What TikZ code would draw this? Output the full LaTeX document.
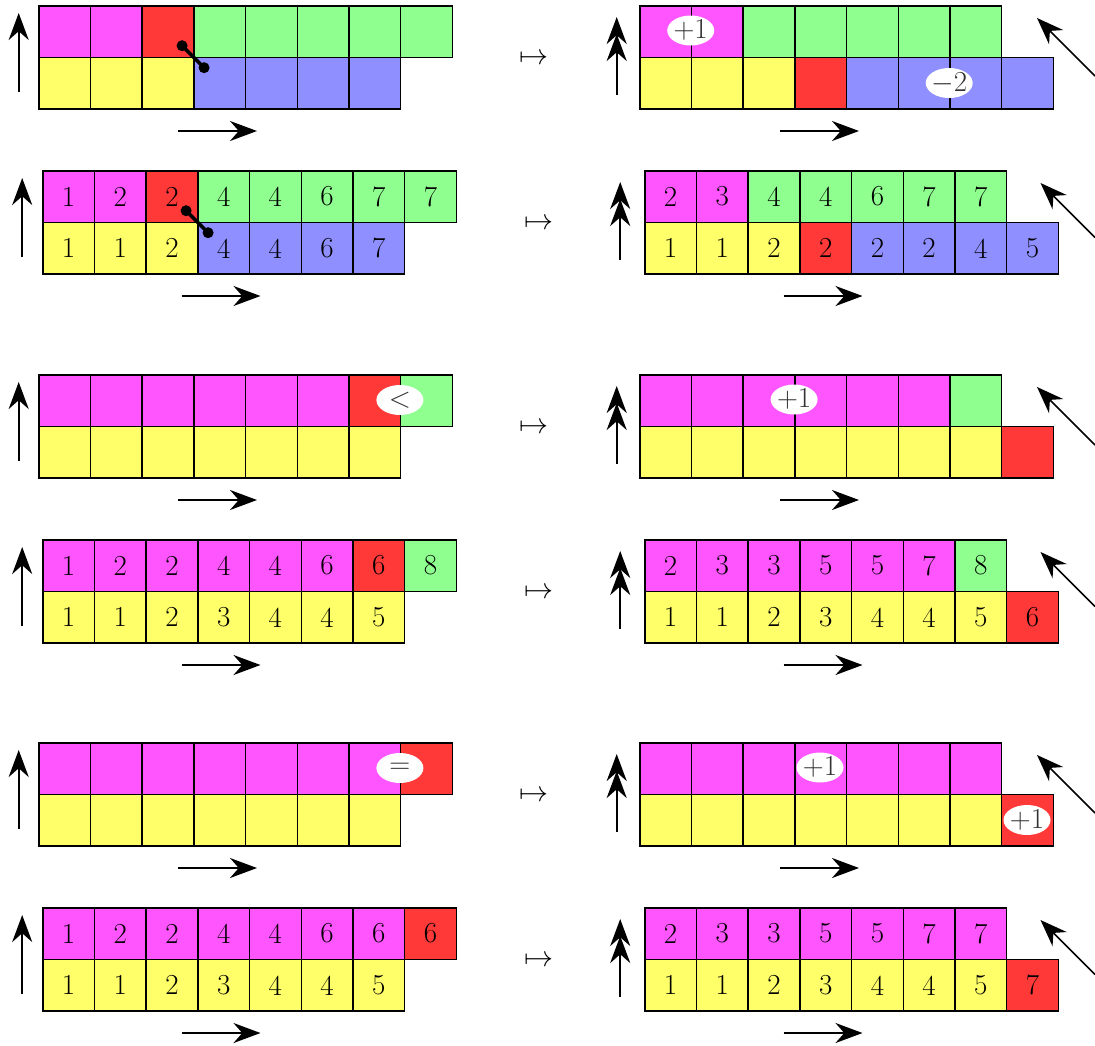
\RequirePackage{fix-cm}
\documentclass[tikz,border=0pt]{standalone}
\usetikzlibrary{arrows.meta,shapes.geometric}
\definecolor{cM}{RGB}{255,85,255}
\definecolor{cR}{RGB}{255,56,56}
\definecolor{cG}{RGB}{143,255,143}
\definecolor{cY}{RGB}{255,255,106}
\definecolor{cB}{RGB}{143,143,255}
\newcommand\cellrow[4]{%
  \foreach \c/\t [count=\i from 0] in {#4} {\node[cell, fill=\c] (#1\i) at ({#2+\i*51.7}, #3) {\t};}}
\newcommand\leftaxes[3]{%
  \coordinate (#1ua) at ({18.7+#2}, {#3+87});
  \coordinate (#1ub) at ({18.7+#2}, {#3+8});
  \draw[upar] (#1ua) -- (#1ub);
  \coordinate (#1ra) at ({178+#2}, {#3+126});
  \coordinate (#1rb) at ({257+#2}, {#3+126});
  \draw[rar] (#1ra) -- (#1rb);}
\newcommand\rightaxes[3]{%
  \coordinate (#1ua) at ({616.7+#2}, {#3+90});
  \coordinate (#1ub) at ({616.7+#2}, {#3+12});
  \draw[dupar] (#1ua) -- (#1ub);
  \coordinate (#1ra) at ({780+#2}, {#3+126});
  \coordinate (#1rb) at ({859+#2}, {#3+126});
  \draw[rar] (#1ra) -- (#1rb);
  \coordinate (#1da) at (1095, {#3+13+1095-1037-#2});
  \coordinate (#1db) at ({1037+#2}, {#3+13});
  \draw[diag] (#1da) -- (#1db);}
\newcommand\mapsnode[3]{\node[maps] (#1) at ({534+#2}, {#3+54}) {$\mapsto$};}
\newcommand\barbell[3]{%
  \coordinate (#1a) at ({#2-11}, {#3-11});
  \coordinate (#1b) at ({#2+11}, {#3+11});
  \draw[link] (#1a) -- (#1b);
  \fill (#1a) circle (5.5pt) (#1b) circle (5.5pt);}
\begin{document}
\begin{tikzpicture}[x=1pt,y=-1pt,
  cell/.style={draw=black, line width=1.5pt, minimum width=51.7pt, minimum height=51.7pt,
    inner sep=0pt, anchor=north west, font=\fontsize{29}{35}\selectfont},
  tag/.style={ellipse, fill=white, minimum width=47pt, minimum height=30pt, inner sep=0pt,
    label={[text=black!80, font=\fontsize{29}{35}\selectfont]center:#1}},
  upar/.style={-{Stealth[length=27pt,width=20pt]}, line width=2.4pt},
  rar/.style={-{Stealth[length=27pt,width=20pt]}, line width=2.2pt},
  dupar/.style={-{Stealth[length=27pt,width=20pt,sep=-10pt]Stealth[length=27pt,width=20pt]}, line width=2.4pt},
  diag/.style={-{Stealth[length=27pt,width=20pt]}, line width=1.5pt},
  maps/.style={font=\fontsize{29}{35}\selectfont, inner sep=0pt},
  link/.style={line width=3.5pt},
]
\useasboundingbox (0,0) rectangle (1095,1045);

% ---------- Panel 1 ----------
\cellrow{aLt}{38}{5}{cM/{},cM/{},cR/{},cG/{},cG/{},cG/{},cG/{},cG/{}}
\cellrow{aLb}{38}{56.7}{cY/{},cY/{},cY/{},cB/{},cB/{},cB/{},cB/{}}
\barbell{aK}{193.1}{56.7}
\leftaxes{aL}{0}{5}
\mapsnode{aM}{0}{5}
\cellrow{aRt}{639}{5}{cM/{},cM/{},cG/{},cG/{},cG/{},cG/{},cG/{}}
\cellrow{aRb}{639}{56.7}{cY/{},cY/{},cY/{},cR/{},cB/{},cB/{},cB/{},cB/{}}
\rightaxes{aR}{0}{5}
\node[tag={$+1$}] (aE1) at (690.7,30.5) {};
\node[tag={$-2$}] (aE2) at (949.2,83) {};

% ---------- Panel 2 ----------
\cellrow{bLt}{42}{170}{cM/1,cM/2,cR/2,cG/4,cG/4,cG/6,cG/7,cG/7}
\cellrow{bLb}{42}{221.7}{cY/1,cY/1,cY/2,cB/4,cB/4,cB/6,cB/7}
\barbell{bK}{197.1}{221.7}
\leftaxes{bL}{3.5}{170}
\mapsnode{bM}{4.5}{170}
\cellrow{bRt}{644}{170}{cM/2,cM/3,cG/4,cG/4,cG/6,cG/7,cG/7}
\cellrow{bRb}{644}{221.7}{cY/1,cY/1,cY/2,cR/2,cB/2,cB/2,cB/4,cB/5}
\rightaxes{bR}{3.5}{170}

% ---------- Panel 3 ----------
\cellrow{cLt}{38}{374}{cM/{},cM/{},cM/{},cM/{},cM/{},cM/{},cR/{},cG/{}}
\cellrow{cLb}{38}{425.7}{cY/{},cY/{},cY/{},cY/{},cY/{},cY/{},cY/{}}
\node[tag={$<$}] (cE0) at (399.9,400) {};
\leftaxes{cL}{0}{374}
\mapsnode{cM}{0}{374}
\cellrow{cRt}{639}{374}{cM/{},cM/{},cM/{},cM/{},cM/{},cM/{},cG/{}}
\cellrow{cRb}{639}{425.7}{cY/{},cY/{},cY/{},cY/{},cY/{},cY/{},cY/{},cR/{}}
\rightaxes{cR}{0}{374}
\node[tag={$+1$}] (cE1) at (794.1,399.5) {};

% ---------- Panel 4 ----------
\cellrow{dLt}{42}{539}{cM/1,cM/2,cM/2,cM/4,cM/4,cM/6,cR/6,cG/8}
\cellrow{dLb}{42}{590.7}{cY/1,cY/1,cY/2,cY/3,cY/4,cY/4,cY/5}
\leftaxes{dL}{3.5}{539}
\mapsnode{dM}{4.5}{539}
\cellrow{dRt}{644}{539}{cM/2,cM/3,cM/3,cM/5,cM/5,cM/7,cG/8}
\cellrow{dRb}{644}{590.7}{cY/1,cY/1,cY/2,cY/3,cY/4,cY/4,cY/5,cR/6}
\rightaxes{dR}{3.5}{539}

% ---------- Panel 5 ----------
\cellrow{eLt}{38}{742}{cM/{},cM/{},cM/{},cM/{},cM/{},cM/{},cM/{},cR/{}}
\cellrow{eLb}{38}{793.7}{cY/{},cY/{},cY/{},cY/{},cY/{},cY/{},cY/{}}
\node[tag={$=$}] (eE0) at (399.9,768) {};
\leftaxes{eL}{0}{742}
\mapsnode{eM}{0}{742}
\cellrow{eRt}{639}{742}{cM/{},cM/{},cM/{},cM/{},cM/{},cM/{},cM/{}}
\cellrow{eRb}{639}{793.7}{cY/{},cY/{},cY/{},cY/{},cY/{},cY/{},cY/{},cR/{}}
\rightaxes{eR}{0}{742}
\node[tag={$+1$}] (eE1) at (820,767.5) {};
\node[tag={$+1$}] (eE2) at (1027,820) {};

% ---------- Panel 6 ----------
\cellrow{fLt}{42}{907}{cM/1,cM/2,cM/2,cM/4,cM/4,cM/6,cM/6,cR/6}
\cellrow{fLb}{42}{958.7}{cY/1,cY/1,cY/2,cY/3,cY/4,cY/4,cY/5}
\leftaxes{fL}{3.5}{907}
\mapsnode{fM}{4.5}{907}
\cellrow{fRt}{644}{907}{cM/2,cM/3,cM/3,cM/5,cM/5,cM/7,cM/7}
\cellrow{fRb}{644}{958.7}{cY/1,cY/1,cY/2,cY/3,cY/4,cY/4,cY/5,cR/7}
\rightaxes{fR}{3.5}{907}
\end{tikzpicture}
\end{document}
